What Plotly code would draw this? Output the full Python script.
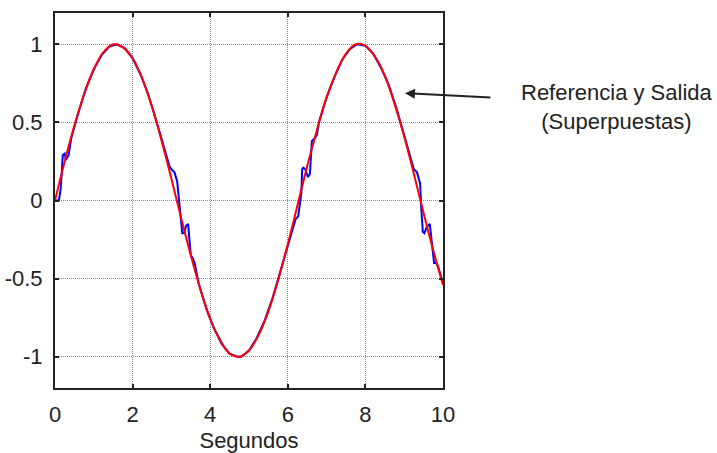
import plotly.graph_objects as go

# Reference (red)
ref_t = [0, 0.25, 0.5, 0.75, 1.0, 1.25, 1.5, 1.75, 2.0, 2.25, 2.5, 2.75, 3.0, 3.25, 3.5, 3.75,
         4.0, 4.25, 4.5, 4.75, 5.0, 5.25, 5.5, 5.75, 6.0, 6.25, 6.5, 6.75, 7.0, 7.25, 7.5, 7.75,
         8.0, 8.25, 8.5, 8.75, 9.0, 9.25, 9.5, 9.75, 10.0]
ref_y = [0.00, 0.25, 0.48, 0.68, 0.84, 0.95, 1.00, 0.98, 0.91, 0.78, 0.60, 0.38, 0.14, -0.11,
         -0.35, -0.57, -0.76, -0.89, -0.98, -1.00, -0.96, -0.86, -0.71, -0.51, -0.28, -0.03,
         0.22, 0.45, 0.66, 0.82, 0.94, 1.00, 0.99, 0.92, 0.80, 0.62, 0.41, 0.17, -0.08, -0.32, -0.54]

# Output (blue)
out_t = [0, 0.1, 0.15, 0.2, 0.25, 0.28, 0.35, 0.42, 0.6, 0.8, 1.0, 1.2, 1.4, 1.6, 1.8, 2.0,
         2.2, 2.4, 2.6, 2.75, 2.85, 2.9, 2.95, 3.0, 3.08, 3.15, 3.2, 3.25, 3.28, 3.33, 3.38,
         3.43, 3.47, 3.5, 3.55, 3.6, 3.7, 3.9, 4.1, 4.3, 4.5, 4.7, 4.8, 5.0, 5.2, 5.4, 5.6,
         5.8, 6.0, 6.1, 6.2, 6.27, 6.3, 6.35, 6.37, 6.4, 6.45, 6.52, 6.57, 6.62, 6.7, 6.75,
         6.8, 6.9, 7.0, 7.2, 7.4, 7.6, 7.8, 8.0, 8.2, 8.4, 8.6, 8.8, 9.0, 9.15, 9.25, 9.33,
         9.41, 9.44, 9.48, 9.52, 9.58, 9.66, 9.72, 9.77, 9.82, 9.87, 9.93, 10.0]
out_y = [0.00, 0.00, 0.08, 0.29, 0.30, 0.26, 0.29, 0.40, 0.56, 0.72, 0.84, 0.93, 0.985, 1.00,
         0.975, 0.91, 0.81, 0.68, 0.52, 0.39, 0.30, 0.25, 0.22, 0.20, 0.18, 0.12, 0.00, -0.15,
         -0.21, -0.21, -0.16, -0.15, -0.28, -0.35, -0.37, -0.40, -0.53, -0.69, -0.82, -0.92,
         -0.98, -1.00, -1.00, -0.96, -0.88, -0.77, -0.63, -0.46, -0.28, -0.19, -0.12, -0.10,
         -0.03, 0.05, 0.20, 0.21, 0.20, 0.15, 0.17, 0.38, 0.40, 0.42, 0.50, 0.58, 0.66, 0.79,
         0.90, 0.97, 1.00, 0.99, 0.94, 0.85, 0.74, 0.59, 0.42, 0.29, 0.20, 0.18, 0.11, -0.05,
         -0.20, -0.21, -0.17, -0.15, -0.28, -0.40, -0.40, -0.42, -0.47, -0.53]

x_ticks = [0, 2, 4, 6, 8, 10]
x_ticktext = ["0", "2", "4", "6", "8", "10"]
y_ticks = [-1, -0.5, 0, 0.5, 1]
y_ticktext = ["-1", "-0.5", "0", "0.5", "1"]

x_title = "Segundos"
note_text = "Referencia y Salida<br>(Superpuestas)"

FONT = "Liberation Sans, Arial, sans-serif"

fig = go.Figure()
fig.add_trace(go.Scatter(x=out_t, y=out_y, mode="lines",
                         line=dict(color="#0000ff", width=2), showlegend=False))
fig.add_trace(go.Scatter(x=ref_t, y=ref_y, mode="lines",
                         line=dict(color="#ff0000", width=2, shape="spline", smoothing=1.0),
                         showlegend=False))

axis_common = dict(
    showline=True, linecolor="#222", linewidth=2, mirror="ticks",
    ticks="inside", ticklen=4, tickcolor="#222", tickwidth=1.5,
    showgrid=True, gridcolor="#8c8c8c", gridwidth=1, griddash="1px,1px",
    zeroline=False, automargin=False,
    tickfont=dict(family=FONT, size=22, color="#222"),
)

fig.update_xaxes(range=[0, 10], tickvals=x_ticks, ticktext=x_ticktext,
                 title=dict(text=x_title, font=dict(family=FONT, size=22, color="#222"), standoff=6),
                 ticklabelstandoff=6, **axis_common)
fig.update_yaxes(range=[-1.2, 1.2], tickvals=y_ticks, ticktext=y_ticktext,
                 ticklabelstandoff=6, **axis_common)

fig.add_annotation(x=9.02, y=0.687, xref="x", yref="y", text="",
                   showarrow=True, ax=87, ay=4.5, axref="pixel", ayref="pixel",
                   arrowhead=2, arrowsize=1, arrowwidth=2, arrowcolor="#222")
fig.add_annotation(x=1.448, y=0.749, xref="paper", yref="paper", text=note_text,
                   showarrow=False, align="center", xanchor="center", yanchor="middle",
                   font=dict(family=FONT, size=22, color="#222"))

fig.update_layout(
    width=717, height=453,
    margin=dict(l=55, r=274, t=13, b=65, autoexpand=False),
    plot_bgcolor="white", paper_bgcolor="white",
    font=dict(family=FONT, size=22, color="#222"),
)

fig.write_html("out.html", config={"displayModeBar": False},
               post_script="document.body.style.margin='0';document.body.style.overflow='hidden';")
